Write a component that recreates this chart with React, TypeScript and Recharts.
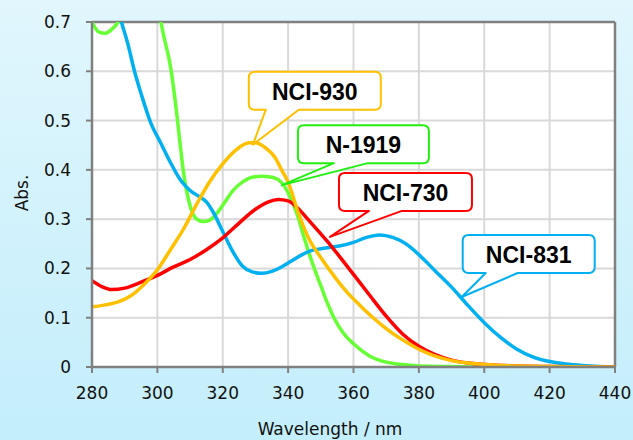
import { LineChart, Line, XAxis, YAxis, CartesianGrid, ReferenceLine, ReferenceDot } from 'recharts';

// wavelength (nm) / absorbance readings, one pair of arrays per sample
const n1919Nm = [280, 282, 284, 286, 288, 290, 295, 300, 302, 304, 306, 307, 308, 310, 312, 314, 316, 318, 320, 323, 326, 329, 332, 335, 337, 339, 341, 343, 345, 348, 350, 352, 354, 357, 360, 365, 370, 375, 380, 390, 400, 420, 440];
const n1919Abs = [0.7, 0.68, 0.677, 0.685, 0.7, 0.73, 0.78, 0.73, 0.67, 0.61, 0.51, 0.45, 0.395, 0.327, 0.3, 0.295, 0.298, 0.31, 0.328, 0.357, 0.375, 0.385, 0.387, 0.385, 0.38, 0.365, 0.34, 0.305, 0.26, 0.2, 0.165, 0.13, 0.1, 0.068, 0.047, 0.022, 0.01, 0.005, 0.002, 0.001, 0, 0, 0];

const nci831Nm = [280, 284, 287, 289, 291, 293, 295, 298, 301, 304, 307, 310, 313, 315, 317, 320, 323, 326, 329, 332, 335, 338, 341, 344, 347, 350, 353, 356, 360, 364, 368, 372, 376, 380, 385, 390, 395, 400, 405, 410, 415, 420, 425, 430, 435, 440];
const nci831Abs = [0.92, 0.84, 0.75, 0.7, 0.655, 0.6, 0.555, 0.495, 0.455, 0.415, 0.38, 0.358, 0.345, 0.335, 0.315, 0.275, 0.235, 0.205, 0.193, 0.19, 0.194, 0.203, 0.215, 0.227, 0.236, 0.24, 0.243, 0.246, 0.253, 0.263, 0.268, 0.263, 0.25, 0.228, 0.195, 0.162, 0.125, 0.09, 0.06, 0.036, 0.02, 0.011, 0.006, 0.003, 0.001, 0];

const nci730Nm = [280, 283, 286, 290, 295, 300, 305, 310, 315, 320, 325, 330, 334, 337, 340, 343, 346, 350, 353, 356, 360, 365, 370, 375, 380, 385, 390, 395, 400, 410, 420, 440];
const nci730Abs = [0.175, 0.163, 0.157, 0.16, 0.172, 0.186, 0.203, 0.218, 0.238, 0.262, 0.292, 0.32, 0.335, 0.34, 0.337, 0.322, 0.3, 0.27, 0.247, 0.222, 0.188, 0.145, 0.103, 0.067, 0.042, 0.025, 0.014, 0.008, 0.005, 0.002, 0.001, 0];

const nci930Nm = [280, 284, 288, 292, 296, 300, 304, 308, 312, 316, 320, 324, 328, 330, 333, 336, 338, 340, 343, 346, 350, 354, 358, 362, 366, 370, 375, 380, 385, 390, 395, 400, 410, 420, 440];
const nci930Abs = [0.122, 0.126, 0.132, 0.145, 0.168, 0.197, 0.238, 0.28, 0.33, 0.376, 0.412, 0.44, 0.455, 0.455, 0.445, 0.425, 0.4, 0.375, 0.315, 0.265, 0.222, 0.185, 0.152, 0.125, 0.1, 0.078, 0.055, 0.036, 0.022, 0.013, 0.008, 0.005, 0.002, 0.001, 0];

const xTicks = [280, 300, 320, 340, 360, 380, 400, 420, 440];
const yTicks = [0, 0.1, 0.2, 0.3, 0.4, 0.5, 0.6, 0.7];

// callout labels and the point each one points at
const calloutNames = ['NCI-930', 'N-1919', 'NCI-730', 'NCI-831'];
const calloutNm = [329.2, 338.1, 352.8, 393.1];
const calloutAbs = [0.451, 0.369, 0.264, 0.142];

const COLORS = { green: '#66ff33', blue: '#00b0f0', red: '#ff0000', orange: '#ffc000' };
const CALLOUT_STROKES = ['#ffc000', '#22ee11', '#ff0000', '#00b0f0'];
// box offset relative to the tip: [dx, dy, width, tailStart, tailEnd]
const CALLOUT_BOX = [
  [-4, -73, 132, 17, 50],
  [16, -60, 131, 36, 70],
  [9, -64, 133, 30, 63],
  [1, -62, 132, 23, 55],
];

const toPoints = (nm: number[], abs: number[]) => nm.map((x, i) => ({ nm: x, abs: abs[i] }));

const font = "'DejaVu Sans', Verdana, sans-serif";

function bubble(i: number) {
  return (props: any) => {
    const { cx, cy } = props;
    const [dx, dy, w, t1, t2] = CALLOUT_BOX[i];
    const h = 38;
    const r = 6;
    const bx = cx + dx;
    const by = cy + dy;
    const d = `M${bx + r},${by} H${bx + w - r} Q${bx + w},${by} ${bx + w},${by + r} V${by + h - r} Q${bx + w},${by + h} ${bx + w - r},${by + h} H${bx + t2} L${cx},${cy} L${bx + t1},${by + h} H${bx + r} Q${bx},${by + h} ${bx},${by + h - r} V${by + r} Q${bx},${by} ${bx + r},${by} Z`;
    return (
      <g>
        <path d={d} fill="#fff" stroke={CALLOUT_STROKES[i]} strokeWidth={2} strokeLinejoin="round" />
        <text x={bx + w / 2} y={by + 28} textAnchor="middle" fontFamily="'Liberation Sans', Arial, sans-serif" fontWeight="bold" fontSize={23} fill="#000">
          {calloutNames[i]}
        </text>
      </g>
    );
  };
}

export default function App() {
  return (
    <div style={{ position: 'absolute', left: 0, top: 0, width: 633, height: 440, background: 'linear-gradient(180deg, #e1f6fd 0%, #c3eefb 100%)' }}>
      <LineChart width={633} height={440} margin={{ top: 22, right: 18, bottom: 0, left: 0 }}>
        <CartesianGrid stroke="#d9d9d9" strokeWidth={2} fill="#fff" />
        <XAxis
          type="number"
          dataKey="nm"
          domain={[280, 440]}
          ticks={xTicks}
          allowDataOverflow
          height={73}
          tickSize={6}
          tickMargin={14}
          axisLine={{ stroke: '#808080', strokeWidth: 2.5 }}
          tickLine={{ stroke: '#808080', strokeWidth: 2 }}
          tick={{ fill: '#111', fontSize: 17, fontFamily: font }}
          label={{ content: () => <text x={330} y={435} textAnchor="middle" fontFamily={font} fontSize={17} fill="#111">Wavelength / nm</text> }}
        />
        <YAxis
          type="number"
          domain={[0, 0.7]}
          ticks={yTicks}
          allowDataOverflow
          width={92}
          tickSize={6}
          tickMargin={15}
          axisLine={{ stroke: '#808080', strokeWidth: 2.5 }}
          tickLine={{ stroke: '#808080', strokeWidth: 2 }}
          tick={{ fill: '#111', fontSize: 17, fontFamily: font }}
          label={{ content: () => <text x={28} y={193} transform="rotate(-90 28 193)" textAnchor="middle" fontFamily={font} fontSize={17} fill="#111">Abs.</text> }}
        />
        <ReferenceLine y={0.7} stroke="#808080" strokeWidth={2.5} />
        <ReferenceLine x={440} stroke="#808080" strokeWidth={2.5} />
        <Line data={toPoints(n1919Nm, n1919Abs)} dataKey="abs" type="monotone" stroke={COLORS.green} strokeWidth={3.5} dot={false} isAnimationActive={false} />
        <Line data={toPoints(nci831Nm, nci831Abs)} dataKey="abs" type="monotone" stroke={COLORS.blue} strokeWidth={3.5} dot={false} isAnimationActive={false} />
        <Line data={toPoints(nci730Nm, nci730Abs)} dataKey="abs" type="monotone" stroke={COLORS.red} strokeWidth={3.5} dot={false} isAnimationActive={false} />
        <Line data={toPoints(nci930Nm, nci930Abs)} dataKey="abs" type="monotone" stroke={COLORS.orange} strokeWidth={3.5} dot={false} isAnimationActive={false} />
        {calloutNames.map((name, i) => (
          <ReferenceDot key={name} x={calloutNm[i]} y={calloutAbs[i]} r={0} ifOverflow="visible" shape={bubble(i)} />
        ))}
      </LineChart>
    </div>
  );
}
